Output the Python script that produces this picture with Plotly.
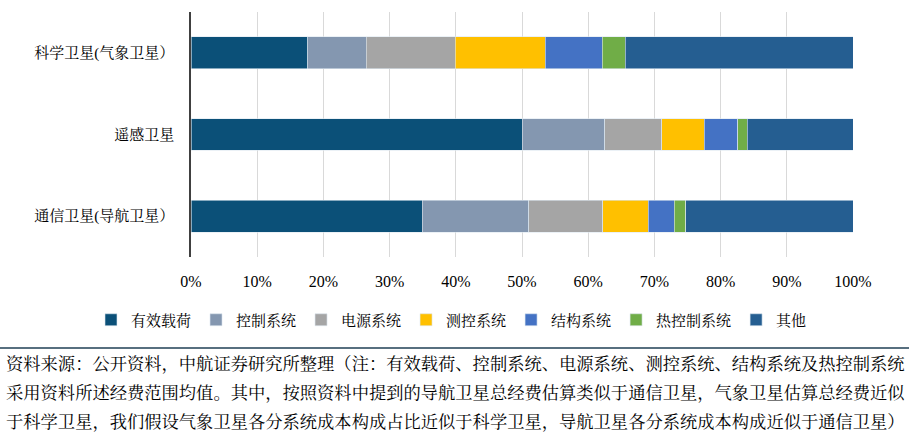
import plotly.graph_objects as go

categories = ["科学卫星(气象卫星）", "遥感卫星", "通信卫星(导航卫星）"]
series_names = ["有效载荷", "控制系统", "电源系统", "测控系统", "结构系统", "热控制系统", "其他"]
colors = ["#0B5078", "#8497B0", "#A5A5A5", "#FFC000", "#4472C4", "#70AD47", "#255E91"]
# percent values per series, order matches categories
payload = [17.6, 50.0, 34.9]
control = [8.9, 12.5, 16.1]
power = [13.4, 8.6, 11.2]
ttc = [13.6, 6.4, 6.9]
structure = [8.6, 5.1, 3.9]
thermal = [3.5, 1.4, 1.7]
other = [34.4, 16.0, 25.3]
series_values = [payload, control, power, ttc, structure, thermal, other]
x_ticks = [0, 10, 20, 30, 40, 50, 60, 70, 80, 90, 100]
x_tick_labels = [f"{v}%" for v in x_ticks]

footnote_lines = [
    "资料来源：公开资料，中航证券研究所整理（注：有效载荷、控制系统、电源系统、测控系统、结构系统及热控制系统",
    "采用资料所述经费范围均值。其中，按照资料中提到的导航卫星总经费估算类似于通信卫星，气象卫星估算总经费近似",
    "于科学卫星，我们假设气象卫星各分系统成本构成占比近似于科学卫星，导航卫星各分系统成本构成近似于通信卫星）",
]

W, H = 909, 442
L, R, T, B = 191, 56, 12, 185
pw, ph = W - L - R, H - T - B

def px2paper_x(px):
    return (px - L) / pw

def px2paper_y(py):
    return (H - B - py) / ph

fig = go.Figure()
for name, vals, col in zip(series_names, series_values, colors):
    fig.add_trace(go.Bar(
        y=categories, x=vals, name=name, orientation="h",
        marker=dict(color=col, line=dict(color="#DDE8F0", width=0.6)),
        width=0.39,
    ))

font_cn = "Liberation Serif, Noto Serif CJK SC, Noto Sans CJK SC"

fig.update_layout(
    width=W, height=H,
    margin=dict(l=L, r=R, t=T, b=B, pad=0, autoexpand=False),
    barmode="stack",
    plot_bgcolor="white", paper_bgcolor="white",
    font=dict(family=font_cn, color="#000000", size=15),
    showlegend=True,
    legend=dict(
        orientation="h", xref="paper", x=px2paper_x(91), xanchor="left",
        yref="paper", y=px2paper_y(320), yanchor="middle",
        font=dict(size=15, family=font_cn, color="#000000"),
        traceorder="normal", itemwidth=30, bgcolor="rgba(0,0,0,0)",
    ),
    xaxis=dict(
        range=[0, 100], tickvals=x_ticks, ticktext=x_tick_labels,
        showgrid=True, gridcolor="#D9D9D9", gridwidth=1,
        zeroline=False, showline=False,
        ticks="outside", ticklen=10, tickcolor="rgba(0,0,0,0)",
        tickfont=dict(size=16, family="Liberation Serif"),
        fixedrange=True, automargin=False,
    ),
    yaxis=dict(
        autorange="reversed",
        showline=True, linecolor="#404040", linewidth=1.5,
        showgrid=False, zeroline=False,
        ticks="outside", ticklen=12, tickcolor="rgba(0,0,0,0)",
        tickfont=dict(size=15, family=font_cn),
        fixedrange=True, automargin=False,
    ),
)

# footnote separator line
fig.add_shape(type="line", xref="paper", yref="paper",
              x0=px2paper_x(0), x1=px2paper_x(W),
              y0=px2paper_y(348), y1=px2paper_y(348),
              line=dict(color="#1F3F55", width=1.5))

for i, (txt, ypx) in enumerate(zip(footnote_lines, [364, 393, 422])):
    fig.add_annotation(
        text=txt, xref="paper", yref="paper",
        x=px2paper_x(4), y=px2paper_y(ypx), xanchor="left", yanchor="middle",
        showarrow=False, font=dict(size=17.3, family=font_cn, color="#000000"),
    )

fig.write_html("out.html", config={"displayModeBar": False},
               post_script="document.body.style.margin='0';")
